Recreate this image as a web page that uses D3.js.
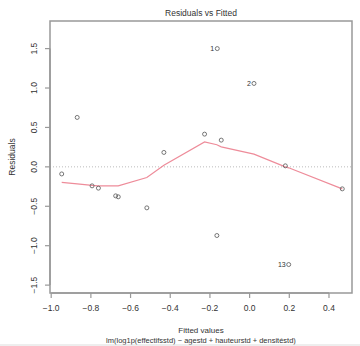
<!DOCTYPE html>
<html>
<head>
<meta charset="utf-8">
<script src="https://cdn.jsdelivr.net/npm/d3@7"></script>
<style>
  body { margin: 0; background: #fff; }
  text { font-family: "Liberation Sans", Arial, sans-serif; fill: #333; }
</style>
</head>
<body>
<div id="chart"></div>
<script>
// fitted values and residuals
const fitted    = [-0.947, -0.869, -0.794, -0.762, -0.675, -0.662, -0.518, -0.432, -0.227, -0.165, -0.163, -0.143, 0.022, 0.180, 0.197, 0.467];
const residuals = [-0.09, 0.627, -0.241, -0.27, -0.368, -0.38, -0.52, 0.183, 0.415, -0.871, 1.50, 0.339, 1.058, 0.013, -1.239, -0.279];
// point labels (row names of the largest residuals)
const pointLabels = ["", "", "", "", "", "", "", "", "", "", "1", "", "2", "", "13", ""];
// smoother values at each fitted value
const smooth    = [-0.198, -0.215, -0.236, -0.24, -0.24, -0.24, -0.135, 0.02, 0.317, 0.28, 0.278, 0.254, 0.161, 0.0, -0.012, -0.279];
const xTicks = [-1.0, -0.8, -0.6, -0.4, -0.2, 0.0, 0.2, 0.4];
const yTicks = [-1.5, -1.0, -0.5, 0.0, 0.5, 1.0, 1.5];

const W = 360, H = 346;
const box = { left: 50, right: 352, top: 21, bottom: 293 };

const svg = d3.select('#chart').append('svg')
  .attr('width', W).attr('height', H);

const x = d3.scaleLinear().domain([-1.006, 0.516]).range([box.left, box.right]);
const y = d3.scaleLinear().domain([-1.60, 1.85]).range([box.bottom, box.top]);

const fmt = d3.format('.1f');

// zero reference line (dotted grey)
svg.append('line')
  .attr('x1', box.left).attr('x2', box.right)
  .attr('y1', y(0)).attr('y2', y(0))
  .attr('stroke', '#bbb').attr('stroke-width', 1)
  .attr('stroke-dasharray', '1,2');

// smoother
const pts = fitted.map((f, i) => ({ f, r: residuals[i], s: smooth[i], lab: pointLabels[i] }));
svg.append('path')
  .datum(pts)
  .attr('d', d3.line().x(d => x(d.f)).y(d => y(d.s)))
  .attr('fill', 'none')
  .attr('stroke', '#ee8c9a')
  .attr('stroke-width', 1.2);

// points
svg.selectAll('circle.pt')
  .data(pts).enter()
  .append('circle')
    .attr('class', 'pt')
    .attr('cx', d => x(d.f))
    .attr('cy', d => y(d.r))
    .attr('r', 2)
    .attr('fill', 'none')
    .attr('stroke', '#666')
    .attr('stroke-width', 0.9);

svg.selectAll('text.lab')
  .data(pts.filter(d => d.lab)).enter()
  .append('text')
    .attr('class', 'lab')
    .attr('x', d => x(d.f) - 3)
    .attr('y', d => y(d.r))
    .attr('text-anchor', 'end')
    .attr('dominant-baseline', 'central')
    .attr('font-size', '7px')
    .text(d => d.lab);

// box
svg.append('rect')
  .attr('x', box.left).attr('y', box.top)
  .attr('width', box.right - box.left).attr('height', box.bottom - box.top)
  .attr('fill', 'none').attr('stroke', '#999').attr('stroke-width', 1.5);

// x axis
const xAxis = svg.append('g');
xAxis.append('line')
  .attr('x1', x(xTicks[0])).attr('x2', x(xTicks[xTicks.length - 1]))
  .attr('y1', box.bottom).attr('y2', box.bottom)
  .attr('stroke', '#999').attr('stroke-width', 1.5);
xTicks.forEach(t => {
  xAxis.append('line')
    .attr('x1', x(t)).attr('x2', x(t))
    .attr('y1', box.bottom).attr('y2', box.bottom + 5)
    .attr('stroke', '#999').attr('stroke-width', 1.2);
  xAxis.append('text')
    .attr('x', x(t)).attr('y', 308)
    .attr('text-anchor', 'middle').attr('dominant-baseline', 'central')
    .attr('font-size', '8.5px')
    .text(fmt(t));
});

// y axis
const yAxis = svg.append('g');
yAxis.append('line')
  .attr('x1', box.left).attr('x2', box.left)
  .attr('y1', y(yTicks[0])).attr('y2', y(yTicks[yTicks.length - 1]))
  .attr('stroke', '#999').attr('stroke-width', 1.5);
yTicks.forEach(t => {
  yAxis.append('line')
    .attr('x1', box.left - 5).attr('x2', box.left)
    .attr('y1', y(t)).attr('y2', y(t))
    .attr('stroke', '#999').attr('stroke-width', 1.2);
  yAxis.append('text')
    .attr('transform', `translate(34,${y(t)}) rotate(-90)`)
    .attr('text-anchor', 'middle').attr('dominant-baseline', 'central')
    .attr('font-size', '8.5px')
    .text(fmt(t));
});

// titles
const cx = (box.left + box.right) / 2;
svg.append('text')
  .attr('x', cx).attr('y', 13)
  .attr('text-anchor', 'middle').attr('dominant-baseline', 'central')
  .attr('font-size', '8.5px')
  .text('Residuals vs Fitted');

svg.append('text')
  .attr('transform', `translate(12,${(box.top + box.bottom) / 2}) rotate(-90)`)
  .attr('text-anchor', 'middle').attr('dominant-baseline', 'central')
  .attr('font-size', '8.5px')
  .text('Residuals');

svg.append('text')
  .attr('x', cx).attr('y', 330)
  .attr('text-anchor', 'middle').attr('dominant-baseline', 'central')
  .attr('font-size', '8px')
  .text('Fitted values');

svg.append('text')
  .attr('x', cx).attr('y', 340)
  .attr('text-anchor', 'middle').attr('dominant-baseline', 'central')
  .attr('font-size', '7.5px')
  .text('lm(log1p(effectifsstd) ~ agestd + hauteurstd + densitéstd)');

// thin frame line at the bottom of the picture
svg.append('line')
  .attr('x1', 0).attr('x2', W).attr('y1', H - 1).attr('y2', H - 1)
  .attr('stroke', '#ddd').attr('stroke-width', 1);
</script>
</body>
</html>
